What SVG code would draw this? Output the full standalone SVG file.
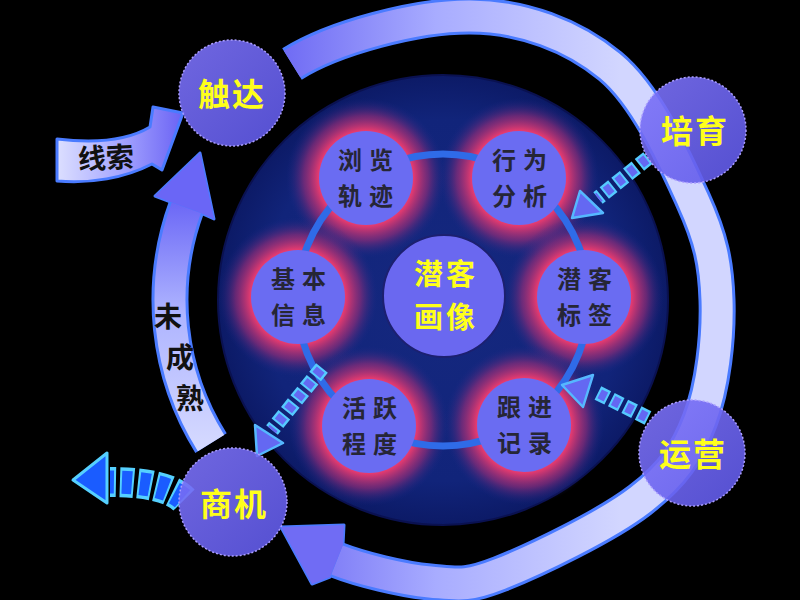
<svg xmlns="http://www.w3.org/2000/svg" width="800" height="600" viewBox="0 0 800 600">
<defs>
<radialGradient id="gCore" cx="443" cy="300" r="226" gradientUnits="userSpaceOnUse">
<stop offset="0" stop-color="#15287f"/><stop offset="0.8" stop-color="#11247a"/><stop offset="1" stop-color="#0c1a66"/>
</radialGradient>
<radialGradient id="gHalo">
<stop offset="0" stop-color="#ff3a70"/><stop offset="0.58" stop-color="#f03c6e"/><stop offset="0.78" stop-color="#a42e78" stop-opacity="0.6"/><stop offset="1" stop-color="#1a2a8a" stop-opacity="0"/>
</radialGradient>
<linearGradient id="gCycle" gradientUnits="userSpaceOnUse" x1="285" y1="0" x2="620" y2="0">
<stop offset="0" stop-color="#706cf4"/><stop offset="0.45" stop-color="#a8acff"/><stop offset="1" stop-color="#d2d6ff"/>
</linearGradient>
<linearGradient id="gLeft" gradientUnits="userSpaceOnUse" x1="0" y1="200" x2="0" y2="450">
<stop offset="0" stop-color="#6a66f6"/><stop offset="0.45" stop-color="#aeb4ff"/><stop offset="1" stop-color="#d6daff"/>
</linearGradient>
<linearGradient id="gClue" gradientUnits="userSpaceOnUse" x1="57" y1="0" x2="183" y2="0">
<stop offset="0" stop-color="#dcdfff"/><stop offset="0.5" stop-color="#a6a6ff"/><stop offset="1" stop-color="#6a62f4"/>
</linearGradient>
<linearGradient id="gOut" x1="0" y1="0" x2="1" y2="1">
<stop offset="0" stop-color="#7c72f8"/><stop offset="1" stop-color="#5e58e8"/>
</linearGradient>
<style>
.t{font-family:"Noto Sans CJK SC","Noto Sans",sans-serif;font-weight:700;text-anchor:middle}
.sat{fill:#6a6cf2}
.satT{font-size:24px;fill:#262636;letter-spacing:7px}
.out{fill:url(#gOut);fill-opacity:0.9;stroke:#ab9eff;stroke-width:1.5;stroke-dasharray:2 2}
.outT{font-size:32px;fill:#ffff1a;letter-spacing:2px}
.edge{fill:none;stroke:#4a7bff;stroke-width:37}
.headEdge{stroke:#4a7bff;stroke-width:3;stroke-linejoin:round}
.dOut{fill:none;stroke:#55caff;stroke-width:15;stroke-dasharray:11 4}
.dIn{fill:none;stroke:#6468f2;stroke-width:10;stroke-dasharray:7 8;stroke-dashoffset:-2}
.head{fill:#6468f2;stroke:#55b8ff;stroke-width:2.5;stroke-linejoin:round}
.dark{fill:#111;font-size:28px}
</style>
</defs>
<rect width="800" height="600" fill="#000"/>

<g id="core">
<circle cx="443" cy="300" r="225" fill="url(#gCore)" stroke="#0a1150" stroke-width="2"/>
</g>

<g id="halos">
<circle cx="366" cy="178" r="80" fill="url(#gHalo)"/>
<circle cx="519" cy="178" r="80" fill="url(#gHalo)"/>
<circle cx="298" cy="297" r="80" fill="url(#gHalo)"/>
<circle cx="584" cy="297" r="80" fill="url(#gHalo)"/>
<circle cx="369" cy="426" r="80" fill="url(#gHalo)"/>
<circle cx="524" cy="425" r="80" fill="url(#gHalo)"/>
</g>

<g id="connectors">
<circle cx="443" cy="300" r="146" fill="none" stroke="#2f6be8" stroke-width="7"/>

<path class="edge" d="M292,64 C334.5,37.5 417,15.7 470,16 C523,16.3 572.8,35.3 610,66 C647.2,96.7 675.2,161 693,200 C710.8,239 715.8,263.3 717,300 C718.2,336.7 712.8,386.7 700,420 C687.2,453.3 673.3,474.3 640,500 C606.7,525.7 535,560.3 500,574 C465,587.7 457.2,584.3 430,582 C402.8,579.7 360,569 337,560"/>
<polygon class="headEdge" fill="#706cf4" points="343,545 344,525 281,527 312,584 330,577"/>
<path fill="none" stroke="url(#gCycle)" stroke-width="31" d="M292,64 C334.5,37.5 417,15.7 470,16 C523,16.3 572.8,35.3 610,66 C647.2,96.7 675.2,161 693,200 C710.8,239 715.8,263.3 717,300 C718.2,336.7 712.8,386.7 700,420 C687.2,453.3 673.3,474.3 640,500 C606.7,525.7 535,560.3 500,574 C465,587.7 457.2,584.3 430,582 C402.8,579.7 360,569 337,560"/>
<polygon fill="#706cf4" points="343,545 344,525 281,527 312,584 330,577"/>

<path class="edge" d="M211,443.1 A270,270 0 0 1 186.3,207.7"/>
<polygon class="headEdge" fill="#6a66f6" points="200.4,212.8 214,219 200,153 155,196 172.2,202.6"/>
<path fill="none" stroke="url(#gLeft)" stroke-width="31" d="M211,443.1 A270,270 0 0 1 186.3,207.7"/>
<polygon fill="#6a66f6" points="200.4,212.8 214,219 200,153 155,196 172.2,202.6"/>
<text class="t dark"><tspan x="168" y="327">未</tspan><tspan x="180" y="368">成</tspan><tspan x="190" y="409">熟</tspan></text>

<path d="M57,139 C90,143 125,142 150,127 L153,107 L183,113 L162,170 L152,164 C125,178 90,184 57,181 Z" fill="url(#gClue)" stroke="#4a7bff" stroke-width="3" stroke-linejoin="round"/>
<text class="t dark" x="106" y="168" font-size="32" transform="rotate(-3 106 157)">线索</text>

<path class="dOut" d="M648,158 L598,198"/>
<path class="dIn" d="M648,158 L598,198"/>
<polygon class="head" points="572,218 580,191 603,213"/>

<path class="dOut" d="M648,418 L596,392"/>
<path class="dIn" d="M648,418 L596,392"/>
<polygon class="head" points="562,385 593,375 583,407"/>

<path class="dOut" d="M322,368 L272,430"/>
<path class="dIn" d="M322,368 L272,430"/>
<polygon class="head" points="257,456 255,425 283,443"/>

<path d="M184,500 Q166,482 110,482" fill="none" stroke="#55d0ff" stroke-width="30" stroke-dasharray="14 4"/>
<path d="M184,500 Q166,482 110,482" fill="none" stroke="#1a5cff" stroke-width="23" stroke-dasharray="10 8" stroke-dashoffset="-2"/>
<polygon points="73,480 107,453 107,503" fill="#1a5cff" stroke="#55d0ff" stroke-width="3" stroke-linejoin="round"/>
</g>

<g id="node-center">
<circle cx="444" cy="296" r="61" fill="#6a68f0" stroke="#1c2070" stroke-width="2"/>
<text class="t" font-size="29" fill="#ffff1a" letter-spacing="3"><tspan x="446" y="285">潜客</tspan><tspan x="446" y="328">画像</tspan></text>
</g>
<g id="node-liulan">
<circle class="sat" cx="366" cy="178" r="47"/>
<text class="t satT"><tspan x="369" y="169">浏览</tspan><tspan x="369" y="205">轨迹</tspan></text>
</g>
<g id="node-xingwei">
<circle class="sat" cx="519" cy="178" r="47"/>
<text class="t satT"><tspan x="523" y="169">行为</tspan><tspan x="523" y="205">分析</tspan></text>
</g>
<g id="node-jiben">
<circle class="sat" cx="298" cy="297" r="47"/>
<text class="t satT"><tspan x="302" y="288">基本</tspan><tspan x="302" y="324">信息</tspan></text>
</g>
<g id="node-biaoqian">
<circle class="sat" cx="584" cy="297" r="47"/>
<text class="t satT"><tspan x="588" y="288">潜客</tspan><tspan x="588" y="324">标签</tspan></text>
</g>
<g id="node-huoyue">
<circle class="sat" cx="369" cy="426" r="47"/>
<text class="t satT"><tspan x="373" y="417">活跃</tspan><tspan x="373" y="453">程度</tspan></text>
</g>
<g id="node-genjin">
<circle class="sat" cx="524" cy="425" r="47"/>
<text class="t satT"><tspan x="528" y="416">跟进</tspan><tspan x="528" y="452">记录</tspan></text>
</g>

<g id="node-chuda">
<circle class="out" cx="232" cy="93" r="53"/>
<text class="t outT" x="232" y="106">触达</text>
</g>
<g id="node-peiyu">
<circle class="out" cx="693" cy="130" r="53"/>
<text class="t outT" x="695" y="143">培育</text>
</g>
<g id="node-yunying">
<circle class="out" cx="692" cy="453" r="53"/>
<text class="t outT" x="693" y="466">运营</text>
</g>
<g id="node-shangji">
<circle class="out" cx="233" cy="502" r="54"/>
<text class="t outT" x="234" y="516">商机</text>
</g>
</svg>
